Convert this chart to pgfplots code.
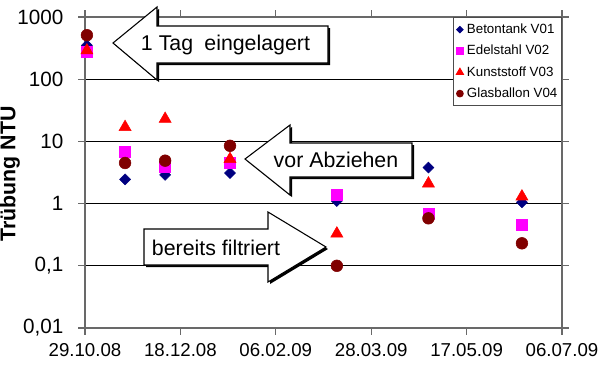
\documentclass[border=0pt]{standalone}
\usepackage{pgfplots}
\pgfplotsset{compat=1.18}
\usepackage{fontspec}
\setmainfont{Liberation Sans}
\definecolor{vnavy}{RGB}{0,0,128}
\definecolor{vmag}{RGB}{255,0,255}
\definecolor{vred}{RGB}{255,0,0}
\definecolor{vbrown}{RGB}{128,0,0}
\definecolor{axgray}{RGB}{105,105,105}
\pgfplotsset{
  mk/.style={only marks,
    legend image code/.code={\draw[##1, every mark/.append style={scale=0.55}] plot coordinates {(0.12cm,0cm)}; \path (0cm,0cm) (0.22cm,0cm);}},
}
\begin{document}
\begin{tikzpicture}
\path[use as bounding box] (0,0) rectangle (450pt,-273.75pt);
\begin{axis}[
  scale only axis, width=357.75pt, height=233.25pt,
  at={(63.75pt,-246pt)}, anchor=south west,
  ymode=log, xmin=0, xmax=250, ymin=0.01, ymax=1000,
  xtick={0,50,100,150,200,250},
  xticklabels={29.10.08,18.12.08,06.02.09,28.03.09,17.05.09,06.07.09},
  ytick={0.01,0.1,1,10,100,1000},
  yticklabels={{0,01},{0,1},1,10,100,1000},
  yminorticks=false, xminorticks=false,
  tick align=outside, major tick length=5pt,
  tick style={axgray, line width=0.9pt},
  axis line style={axgray, line width=1.1pt},
  ymajorgrids, grid style={black, line width=0.7pt},
  xticklabel style={font=\fontsize{14}{16}\selectfont, anchor=north, inner sep=0pt, yshift=-6.5pt},
  yticklabel style={font=\fontsize{15.5}{18}\selectfont, anchor=east, inner sep=0pt, xshift=-11pt},
  ylabel={Trübung NTU},
  ylabel style={font=\bfseries\fontsize{16}{19}\selectfont, at={(rel axis cs:0,0.495)}, anchor=center, rotate=0, yshift=56.25pt},
  legend cell align=left,
  legend style={at={(rel axis cs:1,1)}, anchor=north east, draw=black!70, line width=0.9pt, fill=white,
    font=\fontsize{10}{12}\selectfont, inner sep=1pt,
    nodes={inner sep=2pt, text height=9pt, text depth=3pt}},
  clip=false,
]
\addplot[mk, color=vnavy, mark=square*, mark size=2.9pt, mark options={rotate=45, fill=vnavy, draw=vnavy}]
  coordinates {(1,350) (21,2.45) (42,2.9) (76,3.1) (132,1.1) (180,3.8) (229,1.05)};
\addlegendentry{Betontank V01}
\addplot[mk, color=vmag, mark=square*, mark size=4.1pt, mark options={fill=vmag, draw=vmag}]
  coordinates {(1,280) (21,6.9) (42,3.9) (76,4.6) (132,1.4) (180,0.69) (229,0.45)};
\addlegendentry{Edelstahl V02}
\addplot[mk, color=vred, mark=triangle*, mark size=5.2pt, mark options={fill=vred, draw=vred}]
  coordinates {(1,290) (21,17) (42,23) (76,5.2) (132,0.33) (180,2.1) (229,1.3)};
\addlegendentry{Kunststoff V03}
\addplot[mk, color=vbrown, mark=*, mark size=4.4pt, mark options={fill=vbrown, draw=vbrown}]
  coordinates {(1,510) (21,4.5) (42,4.9) (76,8.5) (132,0.1) (180,0.58) (229,0.23)};
\addlegendentry{Glasballon V04}
\end{axis}
\begin{scope}[x=0.75pt, y=-0.75pt]
  % arrow 1
  \fill[black, xshift=1.5pt, yshift=-1.5pt] (113,43) -- (157,7) -- (157,26) -- (328,26) -- (328,63) -- (157,63) -- (157,80) -- cycle;
  \filldraw[fill=white, draw=black, line width=0.8pt] (113,43) -- (157,7) -- (157,26) -- (328,26) -- (328,63) -- (157,63) -- (157,80) -- cycle;
  \node[font=\fontsize{16}{19}\selectfont, anchor=base, inner sep=0pt] at (225.5,50) {1 Tag\hspace{0.25em} eingelagert};
  % arrow 2
  \fill[black, xshift=1.5pt, yshift=-1.5pt] (245,159) -- (290,125) -- (290,143) -- (412,143) -- (412,177) -- (290,177) -- (290,195) -- cycle;
  \filldraw[fill=white, draw=black, line width=0.8pt] (245,159) -- (290,125) -- (290,143) -- (412,143) -- (412,177) -- (290,177) -- (290,195) -- cycle;
  \node[font=\fontsize{16}{19}\selectfont, anchor=base, inner sep=0pt] at (336,167) {vor Abziehen};
  % arrow 3
  \fill[black, xshift=1.5pt, yshift=-1.5pt] (144,229) -- (268,229) -- (268,212) -- (326,247) -- (268,282) -- (268,265) -- (144,265) -- cycle;
  \filldraw[fill=white, draw=black, line width=0.8pt] (144,229) -- (268,229) -- (268,212) -- (326,247) -- (268,282) -- (268,265) -- (144,265) -- cycle;
  \node[font=\fontsize{16}{19}\selectfont, anchor=base, inner sep=0pt] at (216,255) {bereits filtriert};
\end{scope}
\end{tikzpicture}
\end{document}
